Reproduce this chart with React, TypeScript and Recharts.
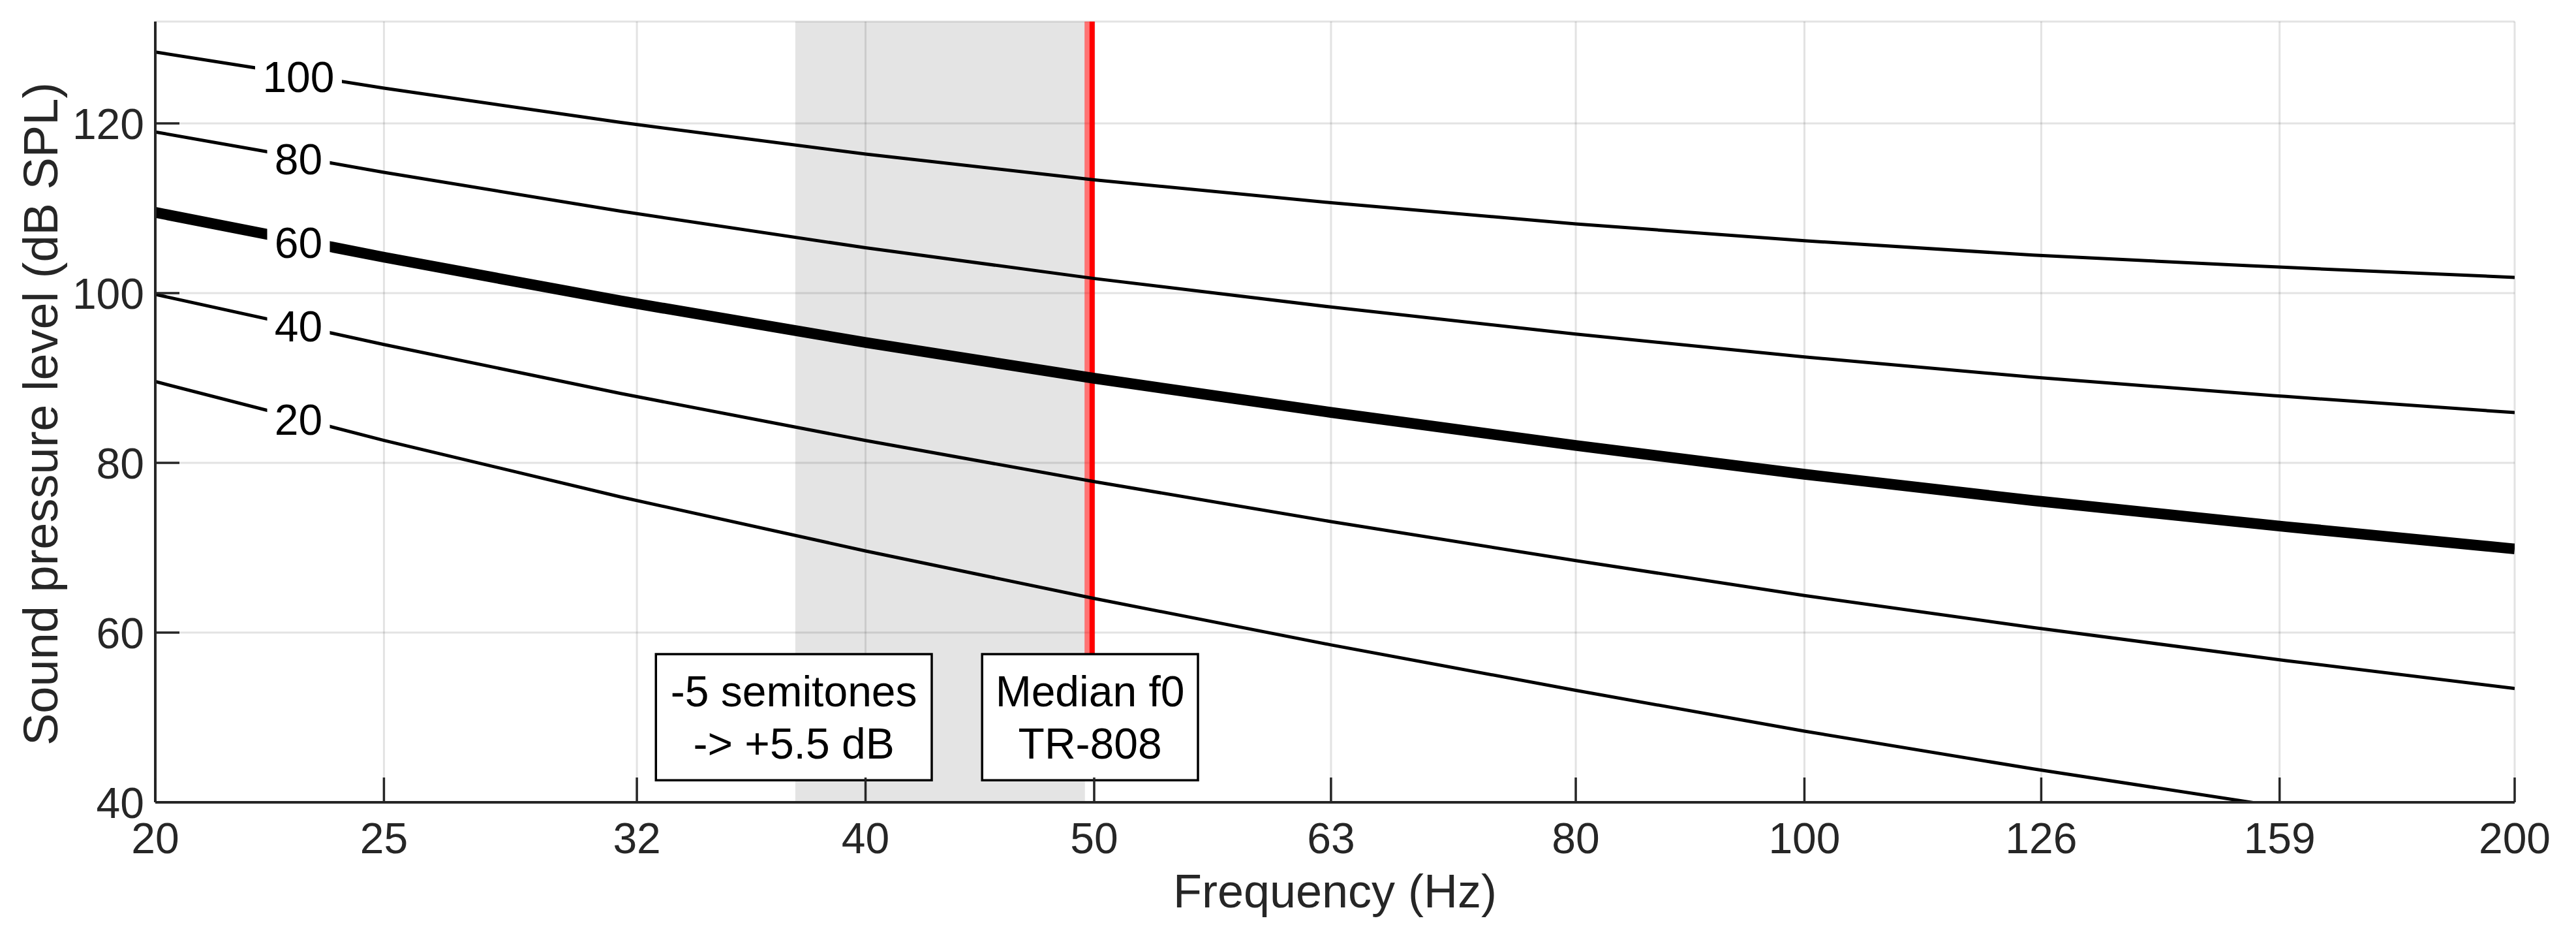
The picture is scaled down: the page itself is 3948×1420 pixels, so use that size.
import React from 'react';
import {
  ComposedChart,
  Line,
  XAxis,
  YAxis,
  CartesianGrid,
  ReferenceArea,
  ReferenceLine,
  ReferenceDot,
} from 'recharts';

// ---- data (equal-loudness contours, dB SPL) ----
const frequencies = [20, 25, 31.5, 40, 50, 63, 80, 100, 125, 160, 200];
const phon20 = [89.58, 82.65, 75.98, 69.62, 64.02, 58.55, 53.19, 48.38, 43.94, 39.37, 35.51];
const phon40 = [99.85, 93.94, 88.17, 82.63, 77.79, 73.08, 68.48, 64.37, 60.59, 56.7, 53.41];
const phon60 = [109.51, 104.23, 99.08, 94.18, 89.96, 85.94, 82.05, 78.65, 75.56, 72.47, 69.86];
const phon80 = [118.99, 114.23, 109.65, 105.34, 101.72, 98.36, 95.17, 92.48, 90.09, 87.82, 85.92];
const phon100 = [128.41, 124.15, 120.11, 116.38, 113.35, 110.65, 108.16, 106.17, 104.48, 103.03, 101.85];

const xTicks = [20, 25, 32, 40, 50, 63, 80, 100, 126, 159, 200];
const yTicks = [40, 60, 80, 100, 120];
const xDomain = [20, 200];
const yDomain = [40, 132];

const contourNames = ['100', '80', '60', '40', '20'];
const contourLabelFreq = 23;
const contourLabelLevels = [125.5, 115.8, 105.9, 96.1, 85.1];

const shadeRange = [37.35, 49.55];
const medianF0 = 49.9;
const medianF0Shadow = 49.66;

const semitoneBox = { x1: 32.6, x2: 42.67, y1: 42.6, y2: 57.46 };
const medianBox = { x1: 44.82, x2: 55.33, y1: 42.6, y2: 57.46 };
const semitoneText = ['-5 semitones', '-> +5.5 dB'];
const medianText = ['Median f0', 'TR-808'];

const table = frequencies.map((f, i) => ({
  f,
  p20: phon20[i],
  p40: phon40[i],
  p60: phon60[i],
  p80: phon80[i],
  p100: phon100[i],
}));

const FONT = '"Liberation Sans", Arial, Helvetica, sans-serif';
const AXIS_COLOR = '#262626';

const XTick = (props: any) => {
  const { x, y, payload } = props;
  return (
    <g>
      <line x1={x} y1={y} x2={x} y2={y - 38} stroke={AXIS_COLOR} strokeWidth={3.5} />
      <text x={x} y={y + 78} textAnchor="middle" fontSize={66} fill={AXIS_COLOR} fontFamily={FONT}>
        {payload.value}
      </text>
    </g>
  );
};

const YTick = (props: any) => {
  const { x, y, payload } = props;
  return (
    <g>
      <line x1={x} y1={y} x2={x + 37} y2={y} stroke={AXIS_COLOR} strokeWidth={3.5} />
      <text x={x - 17} y={y + 24} textAnchor="end" fontSize={66} fill={AXIS_COLOR} fontFamily={FONT}>
        {payload.value}
      </text>
    </g>
  );
};

const makeBoxShape = (lines: string[]) => (props: any) => {
  const { x, y, width, height } = props;
  const cx = x + width / 2;
  const cy = y + height / 2;
  return (
    <g>
      <rect x={x} y={y} width={width} height={height} fill="#ffffff" stroke="#000000" strokeWidth={3.5} />
      <text x={cx} y={cy - 40 + 23} textAnchor="middle" fontSize={66} fill="#000" fontFamily={FONT}>
        {lines[0]}
      </text>
      <text x={cx} y={cy + 40 + 23} textAnchor="middle" fontSize={66} fill="#000" fontFamily={FONT}>
        {lines[1]}
      </text>
    </g>
  );
};

const makeContourLabel = (text: string) => (props: any) => {
  const { cx, cy } = props;
  const w = text.length * 37 + 22;
  return (
    <g>
      <rect x={cx - w / 2} y={cy - 32} width={w} height={64} fill="#ffffff" />
      <text x={cx} y={cy + 23} textAnchor="middle" fontSize={66} fill="#000" fontFamily={FONT}>
        {text}
      </text>
    </g>
  );
};

const xTitle = (props: any) => {
  const vb = props.viewBox;
  return (
    <text
      x={vb.x + vb.width / 2}
      y={vb.y + 161}
      textAnchor="middle"
      fontSize={72}
      fill={AXIS_COLOR}
      fontFamily={FONT}
    >
      Frequency (Hz)
    </text>
  );
};

const yTitle = (props: any) => {
  const vb = props.viewBox;
  const cx = vb.x + 61;
  const cy = vb.y + vb.height / 2 + 3;
  return (
    <text
      transform={`translate(${cx},${cy}) rotate(-90)`}
      x={0}
      y={27}
      textAnchor="middle"
      fontSize={74}
      fill={AXIS_COLOR}
      fontFamily={FONT}
    >
      Sound pressure level (dB SPL)
    </text>
  );
};

const series = [
  { key: 'p20', width: 5 },
  { key: 'p40', width: 5 },
  { key: 'p60', width: 16.5 },
  { key: 'p80', width: 5 },
  { key: 'p100', width: 5 },
];

export default function App() {
  return (
    <div style={{ position: 'absolute', left: 0, top: 0, background: '#fff' }}>
      <ComposedChart
        width={3948}
        height={1420}
        data={table}
        margin={{ top: 33, right: 94, bottom: 0, left: 0 }}
      >
        <ReferenceArea
          x1={shadeRange[0]}
          x2={shadeRange[1]}
          y1={yDomain[0]}
          y2={yDomain[1]}
          fill="#e4e4e4"
          fillOpacity={1}
          stroke="none"
          zIndex={-200}
        />
        <CartesianGrid stroke={AXIS_COLOR} strokeOpacity={0.13} strokeWidth={3} zIndex={-100} />
        <XAxis
          dataKey="f"
          type="number"
          scale="log"
          domain={xDomain}
          ticks={xTicks}
          interval={0}
          allowDataOverflow
          height={191}
          tickSize={0}
          tickMargin={0}
          tickLine={false}
          tick={<XTick />}
          axisLine={{ stroke: AXIS_COLOR, strokeWidth: 4 }}
          label={xTitle}
        />
        <YAxis
          type="number"
          domain={yDomain}
          ticks={yTicks}
          interval={0}
          allowDataOverflow
          width={238}
          tickSize={0}
          tickMargin={0}
          tickLine={false}
          tick={<YTick />}
          axisLine={{ stroke: AXIS_COLOR, strokeWidth: 4 }}
          label={yTitle}
        />
        <ReferenceLine
          segment={[
            { x: medianF0Shadow, y: medianBox.y2 },
            { x: medianF0Shadow, y: yDomain[1] },
          ]}
          stroke="#ff0000"
          strokeOpacity={0.55}
          strokeWidth={8}
          zIndex={300}
        />
        <ReferenceLine
          segment={[
            { x: medianF0, y: medianBox.y2 },
            { x: medianF0, y: yDomain[1] },
          ]}
          stroke="#ff0000"
          strokeWidth={8}
          zIndex={300}
        />
        {series.map((s) => (
          <Line
            key={s.key}
            dataKey={s.key}
            type="monotone"
            stroke="#000000"
            strokeWidth={s.width}
            dot={false}
            activeDot={false}
            isAnimationActive={false}
            zIndex={400}
          />
        ))}
        <ReferenceArea
          x1={semitoneBox.x1}
          x2={semitoneBox.x2}
          y1={semitoneBox.y1}
          y2={semitoneBox.y2}
          shape={makeBoxShape(semitoneText)}
          zIndex={700}
        />
        <ReferenceArea
          x1={medianBox.x1}
          x2={medianBox.x2}
          y1={medianBox.y1}
          y2={medianBox.y2}
          shape={makeBoxShape(medianText)}
          zIndex={700}
        />
        {contourNames.map((name, i) => (
          <ReferenceDot
            key={name}
            x={contourLabelFreq}
            y={contourLabelLevels[i]}
            r={1}
            shape={makeContourLabel(name)}
            zIndex={800}
          />
        ))}
      </ComposedChart>
    </div>
  );
}
